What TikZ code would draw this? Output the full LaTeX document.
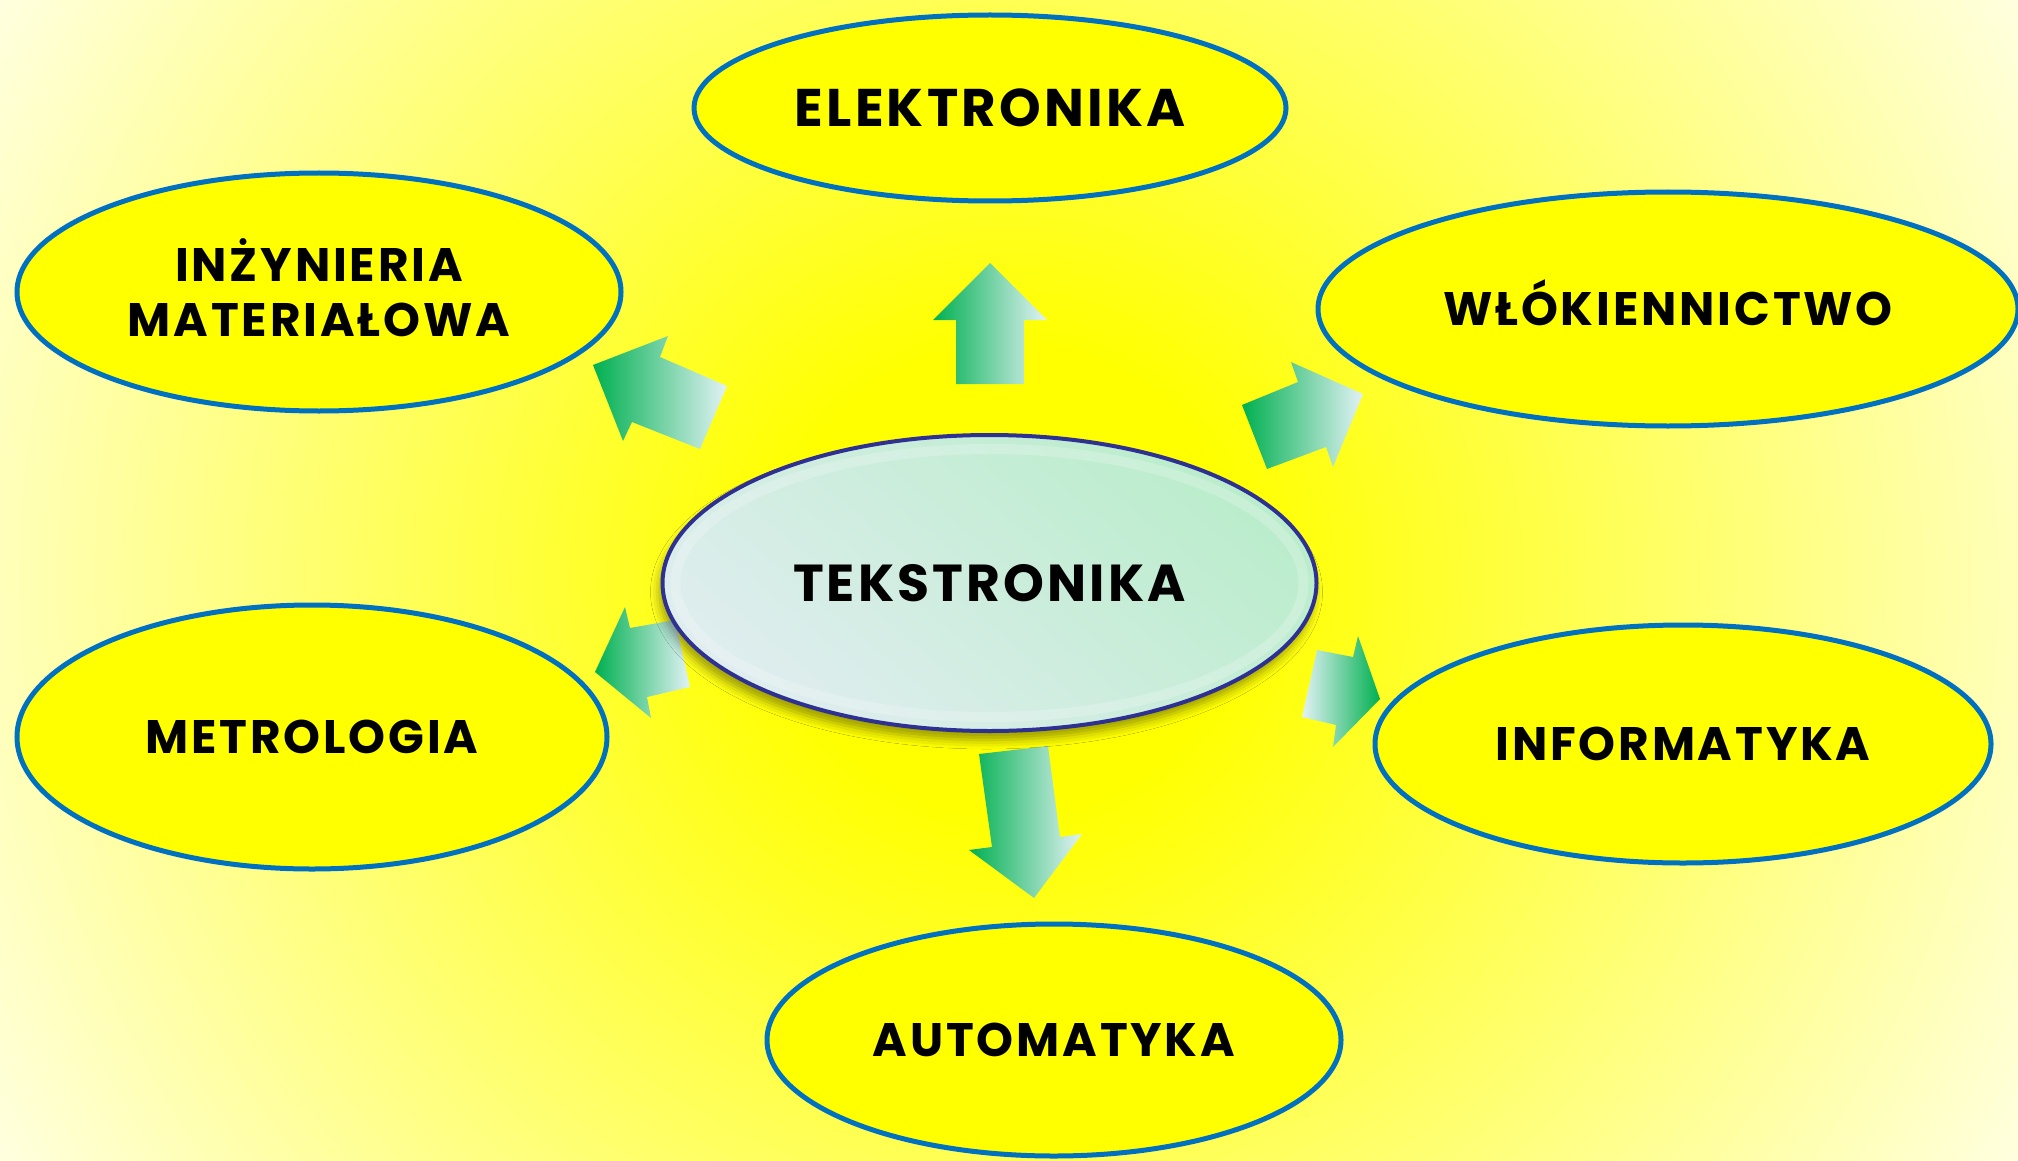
\documentclass[tikz,border=0pt]{standalone}
\usepackage{fontspec}
\setmainfont{Poppins}[LetterSpace=6]
\usetikzlibrary{shapes.geometric,shadows.blur}
\definecolor{bgyel}{HTML}{FFFF00}
\definecolor{bgpale}{HTML}{FFFFF0}
\definecolor{ringblue}{HTML}{0070C0}
\definecolor{agreen}{HTML}{00B050}
\definecolor{apale}{HTML}{E2F2F5}
\definecolor{navy}{HTML}{2E3192}
\definecolor{cmint}{HTML}{BAEDCB}
\definecolor{cpale}{HTML}{DFEDEF}
\begin{document}
\begin{tikzpicture}[x=1pt,y=-1pt,
  outer/.style={ellipse, draw=ringblue, line width=5pt, fill=bgyel, inner sep=0pt,
    font=\fontsize{47}{55}\selectfont\bfseries, align=center, text height=33pt, text depth=0pt},
  central/.style={ellipse, draw=navy, line width=4pt, inner sep=0pt,
    top color=cmint, bottom color=cpale, shading angle=-40,
    font=\fontsize{52}{60}\selectfont\bfseries, text height=36pt, text depth=0pt,
    blur shadow={shadow xshift=-3pt, shadow yshift=-9pt, shadow blur radius=9pt, shadow opacity=40}},
  arrowfill/.style={left color=agreen, right color=apale},
  arrowfillrev/.style={left color=apale, right color=agreen}]
\useasboundingbox (0,0) rectangle (2018,1161);
% background: radial fade from yellow (centre) to pale (corners)
\begin{scope}
  \clip (0,0) rectangle (2018,1161);
  \fill[bgpale] (0,0) rectangle (2018,1161);
  \foreach \i in {0,...,80} {
    \pgfmathsetmacro\rr{1240-\i*12.5}
    \pgfmathsetmacro\tt{\i*1.25}
    \fill[bgyel!\tt!bgpale] (1009,580) circle [radius=\rr pt];
  }
\end{scope}

% block arrows
\shade[arrowfill] (956,384) -- (956,320) -- (933,320) -- (990,263) -- (1047,320) -- (1024,320) -- (1024,384) -- cycle;
\shade[arrowfill] (593,365) -- (668,336) -- (660,357) -- (727,386) -- (700,449) -- (632,422) -- (623,441) -- cycle;
\shade[arrowfill] (1242,405) -- (1298,382) -- (1291,362) -- (1363,394) -- (1333,467) -- (1326,447) -- (1267,469) -- cycle;
\shade[arrowfill] (595,672) -- (625,607) -- (630,628) -- (675,620) -- (690,687) -- (647,697) -- (651,718) -- cycle;
\shade[arrowfill] (979,754) -- (1048,746) -- (1060,837) -- (1082,834) -- (1034,898) -- (969,850) -- (992,847) -- cycle;
\shade[arrowfillrev] (1317,650) -- (1353,657) -- (1358,636) -- (1380,699) -- (1333,747) -- (1336,725) -- (1302,717) -- cycle;

% outer ellipses
\node[outer, minimum width=592pt, minimum height=186pt, font=\fontsize{53}{60}\selectfont\bfseries, text height=37pt] (ele) at (990,108) {ELEKTRONIKA};
\node[outer, minimum width=604pt, minimum height=238pt, text height=88pt] (inz) at (319,292) {INŻYNIERIA\\MATERIAŁOWA};
\node[outer, minimum width=700pt, minimum height=234pt] (wlo) at (1668,309) {WŁÓKIENNICTWO};
\node[outer, minimum width=590pt, minimum height=264pt] (met) at (312,737) {METROLOGIA};
\node[outer, minimum width=616pt, minimum height=238pt] (inf) at (1683,744) {INFORMATYKA};
\node[outer, minimum width=574pt, minimum height=232pt] (aut) at (1054,1040) {AUTOMATYKA};

% central ellipse
\node[central, minimum width=654pt, minimum height=296pt] (tek) at (989.5,583) {TEKSTRONIKA};
\draw[white, opacity=0.22, line width=10pt] (tek.center) ellipse [x radius=314pt, y radius=134pt];
\end{tikzpicture}
\end{document}
